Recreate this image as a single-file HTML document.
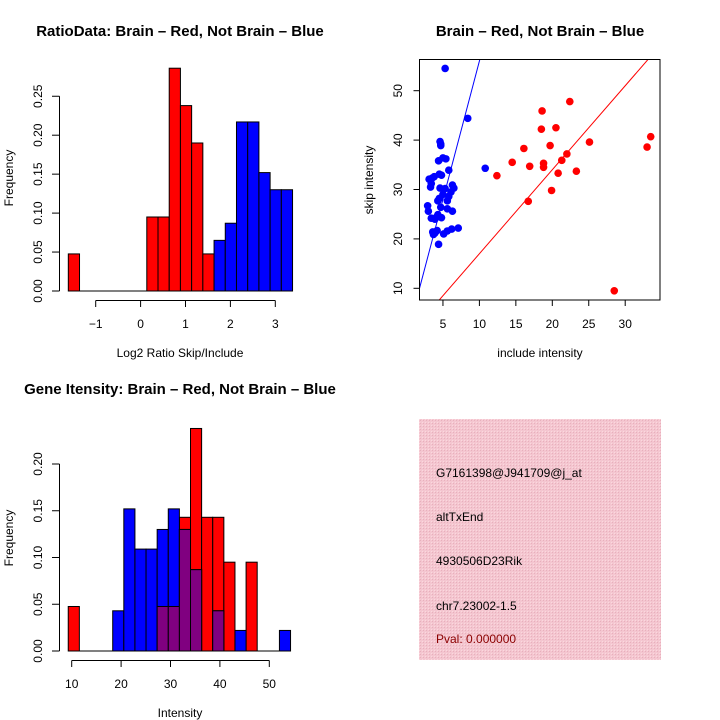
<!DOCTYPE html>
<html><head><meta charset="utf-8"><style>
body{margin:0;background:#fff}
svg{display:block;font-family:"Liberation Sans",sans-serif}
</style></head><body>
<svg id="c" width="720" height="720" xmlns="http://www.w3.org/2000/svg">
<defs><pattern id="hatch" width="3" height="3" patternUnits="userSpaceOnUse"><rect width="3" height="3" fill="#f4c6d0"/><rect width="1" height="1" fill="#e8b0bc"/><rect x="2" y="2" width="1" height="1" fill="#fbd8de"/></pattern></defs>
<text x="180" y="36" font-size="15" font-weight="bold" text-anchor="middle">RatioData: Brain – Red, Not Brain – Blue</text>
<text x="540" y="36" font-size="15" font-weight="bold" text-anchor="middle">Brain – Red, Not Brain – Blue</text>
<text x="180" y="394" font-size="15" font-weight="bold" text-anchor="middle">Gene Itensity: Brain – Red, Not Brain – Blue</text>
<g id="p1"></g>
<g id="p2"></g>
<g id="p3"></g>
<g>
<rect x="419" y="419" width="242" height="241" fill="url(#hatch)"/>
<g font-size="12" fill="#000">
<text x="436" y="477">G7161398@J941709@j_at</text>
<text x="436" y="521">altTxEnd</text>
<text x="436" y="565">4930506D23Rik</text>
<text x="436" y="610">chr7.23002-1.5</text>
<text x="436" y="643" fill="#8b0000">Pval: 0.000000</text>
</g></g>
</svg>
<script>
// Plot 1 data
const r1Start=-1.61, r1Width=0.2497;
const r1Red=[0.0476,0,0,0,0,0,0,0.095,0.095,0.286,0.238,0.190,0.0476];
const r1Blue=[0.065,0.087,0.217,0.217,0.152,0.130,0.130];
const r1BlueStartIndex=13;
const r1XTicks=[-1,0,1,2,3];
const r1YTicks=[0,0.05,0.10,0.15,0.20,0.25];
const r1YLabels=["0.00","0.05","0.10","0.15","0.20","0.25"];
// Plot 2 data
const blueX=[5.3,8.4,10.8,4.6,4.7,4.7,5,5.4,4.4,5.8,4.5,4.8,3.1,3.5,3.8,3.3,3.4,4.6,5.3,6.3,6.5,6.1,5,5.8,4.5,4.3,5.6,2.9,3,4.7,5.6,6.3,3.4,3.9,4.3,4.8,4.1,3.6,3.9,4.2,3.7,5.1,5.6,6.2,7.1,4.4];
const blueY=[54.5,44.4,34.3,39.7,38.9,39.2,36.4,36.2,35.8,33.9,33.1,32.9,32.1,32.3,32.6,30.5,31.2,30.3,30.2,30.9,30.3,29.5,29,28.6,28.2,27.7,27.7,26.7,25.6,26.4,26.1,25.6,24.2,24,24.9,24.3,24.4,21.4,21.2,21.7,20.9,21,21.6,22,22.2,18.9];
const redX=[12.4,14.5,16.1,16.9,16.7,18.6,18.5,18.8,18.8,19.7,19.9,20.5,20.8,21.3,22,22.4,23.3,25.1,28.5,33,33.5];
const redY=[32.8,35.5,38.3,34.7,27.6,45.9,42.2,35.3,34.5,38.9,29.8,42.5,33.3,35.9,37.2,47.8,33.7,39.6,9.5,38.6,40.7];
const blueSlope=5.6, redSlope=1.7;
const sXTicks=[5,10,15,20,25,30];
const sYTicks=[10,20,30,40,50];
// Plot 3 data
const iStart=9.3, iWidth=2.25;
const iRed=[0.0476,0,0,0,0,0,0,0,0.0476,0.0476,0.143,0.238,0.143,0.143,0.095,0,0.095,0,0,0];
const iBlue=[0,0,0,0,0.043,0.152,0.109,0.109,0.130,0.152,0.130,0.087,0,0.043,0,0.022,0,0,0,0.022];
const iXTicks=[10,20,30,40,50];
const iYTicks=[0,0.05,0.10,0.15,0.20];
const iYLabels=["0.00","0.05","0.10","0.15","0.20"];

const NS="http://www.w3.org/2000/svg";
function mk(parent,tag,attrs,txt){const e=document.createElementNS(NS,tag);for(const k in attrs)e.setAttribute(k,attrs[k]);if(txt!==undefined)e.textContent=txt;parent.appendChild(e);return e;}

// ---- Plot 1
{
const g=document.getElementById('p1');
const x=v=>140.6+v*44.9, y=v=>291-v*779;
function bar(i,h,col){ if(h<=0)return; const x0=x(r1Start+i*r1Width),x1=x(r1Start+(i+1)*r1Width);
 const b=mk(g,'rect',{x:x0,y:y(h),width:x1-x0,height:y(0)-y(h),fill:col,stroke:'#000','stroke-width':1});
  }
r1Red.forEach((h,i)=>bar(i,h,'#f00'));
r1Blue.forEach((h,i)=>bar(i+r1BlueStartIndex,h,'#00f'));
const base=mk(g,'line',{x1:x(r1Start),x2:x(r1Start+(r1BlueStartIndex+r1Blue.length)*r1Width),y1:y(0),y2:y(0),stroke:'#000'});

mk(g,'line',{x1:x(r1XTicks[0]),x2:x(r1XTicks[r1XTicks.length-1]),y1:300.5,y2:300.5,stroke:'#000'});
r1XTicks.forEach(t=>{mk(g,'line',{x1:x(t),x2:x(t),y1:300.5,y2:307,stroke:'#000'});
 const l=mk(g,'text',{x:x(t),y:328,'font-size':12,'text-anchor':'middle'},t<0?'−'+(-t):String(t));
 });
mk(g,'line',{x1:59.5,x2:59.5,y1:y(0),y2:y(0.25),stroke:'#000'});
r1YTicks.forEach((t,i)=>{mk(g,'line',{x1:52,x2:59.5,y1:y(t),y2:y(t),stroke:'#000'});
 const l=mk(g,'text',{x:42,y:y(t),'font-size':12,'text-anchor':'middle',transform:`rotate(-90 42 ${y(t)})`},r1YLabels[i]);
 });
const xt=mk(g,'text',{x:180,y:357,'font-size':12,'text-anchor':'middle'},'Log2 Ratio Skip/Include');

const yt=mk(g,'text',{x:13,y:178,'font-size':12,'text-anchor':'middle',transform:'rotate(-90 13 178)'},'Frequency');

}
// ---- Plot 2
{
const g=document.getElementById('p2');
const x=v=>406.5+v*7.29, y=v=>337.7-v*4.94;
const L=419.5,R=660,T=59.5,B=300;
const clip=mk(document.querySelector('defs'),'clipPath',{id:'sc'});mk(clip,'rect',{x:L,y:T,width:R-L,height:B-T});
const lines=mk(g,'g',{'clip-path':'url(#sc)'});
const bl=mk(lines,'line',{x1:x(0),y1:y(0),x2:x(20),y2:y(20*blueSlope),stroke:'#00f'});

const rl=mk(lines,'line',{x1:x(0),y1:y(0),x2:x(40),y2:y(40*redSlope),stroke:'#f00'});

blueX.forEach((v,i)=>{const c=mk(g,'circle',{cx:x(v),cy:y(blueY[i]),r:3.8,fill:'#00f'});
 });
redX.forEach((v,i)=>{const c=mk(g,'circle',{cx:x(v),cy:y(redY[i]),r:3.8,fill:'#f00'});
 });
mk(g,'rect',{x:L,y:T,width:R-L,height:B-T,fill:'none',stroke:'#000'});
sXTicks.forEach(t=>{mk(g,'line',{x1:x(t),x2:x(t),y1:B,y2:B+6,stroke:'#000'});
 const l=mk(g,'text',{x:x(t),y:328,'font-size':12,'text-anchor':'middle'},String(t));
 });
sYTicks.forEach(t=>{mk(g,'line',{x1:L-6,x2:L,y1:y(t),y2:y(t),stroke:'#000'});
 const l=mk(g,'text',{x:402,y:y(t),'font-size':12,'text-anchor':'middle',transform:`rotate(-90 402 ${y(t)})`},String(t));
 });
const xt=mk(g,'text',{x:540,y:357,'font-size':12,'text-anchor':'middle'},'include intensity');

const yt=mk(g,'text',{x:373,y:180,'font-size':12,'text-anchor':'middle',transform:'rotate(-90 373 180)'},'skip intensity');

}
// ---- Plot 3
{
const g=document.getElementById('p3');
const x=v=>22.3+v*4.94, y=v=>651-v*935;
function bar(i,h0,h1,col,name){ if(h1<=h0)return; const x0=x(iStart+i*iWidth),x1=x(iStart+(i+1)*iWidth);
 const b=mk(g,'rect',{x:x0,y:y(h1),width:x1-x0,height:y(h0)-y(h1),fill:col,stroke:'#000','stroke-width':1});
  }
iRed.forEach((h,i)=>bar(i,0,h,'#f00','red-bar'));
iBlue.forEach((h,i)=>bar(i,0,h,'#00f','blue-bar'));
iRed.forEach((h,i)=>{const m=Math.min(h,iBlue[i]);if(m>0){bar(i,0,m,'#800080','overlap-bar');}});
mk(g,'line',{x1:x(iStart),x2:x(iStart+iRed.length*iWidth),y1:y(0),y2:y(0),stroke:'#000'});
mk(g,'line',{x1:x(10),x2:x(50),y1:660.5,y2:660.5,stroke:'#000'});
iXTicks.forEach(t=>{mk(g,'line',{x1:x(t),x2:x(t),y1:660.5,y2:667,stroke:'#000'});
 const l=mk(g,'text',{x:x(t),y:688,'font-size':12,'text-anchor':'middle'},String(t));
 });
mk(g,'line',{x1:59.5,x2:59.5,y1:y(0),y2:y(0.2),stroke:'#000'});
iYTicks.forEach((t,i)=>{mk(g,'line',{x1:52,x2:59.5,y1:y(t),y2:y(t),stroke:'#000'});
 const l=mk(g,'text',{x:42,y:y(t),'font-size':12,'text-anchor':'middle',transform:`rotate(-90 42 ${y(t)})`},iYLabels[i]);
 });
const xt=mk(g,'text',{x:180,y:717,'font-size':12,'text-anchor':'middle'},'Intensity');

const yt=mk(g,'text',{x:13,y:538,'font-size':12,'text-anchor':'middle',transform:'rotate(-90 13 538)'},'Frequency');

}
</script>
</body></html>
